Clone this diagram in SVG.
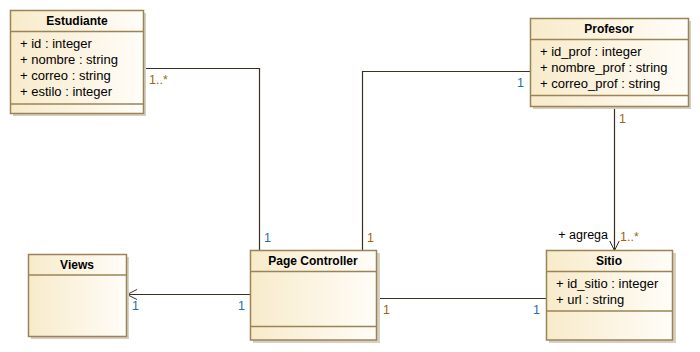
<svg xmlns="http://www.w3.org/2000/svg" width="700" height="352" viewBox="0 0 700 352">
  <defs>
    <linearGradient id="classFill" x1="0" y1="0" x2="1" y2="0">
      <stop offset="0" stop-color="#F8EBCB"/>
      <stop offset="1" stop-color="#FFFDF8"/>
    </linearGradient>
    <marker id="openArrow" markerWidth="12" markerHeight="12" refX="10" refY="6" orient="auto" markerUnits="userSpaceOnUse">
      <path d="M0,1 L10,6 L0,11" fill="none" stroke="#3A3020" stroke-width="1"/>
    </marker>
  </defs>
  <style>
    .shadow { fill: #D6D0C4; }
    .box { fill: url(#classFill); stroke: #9A8456; stroke-width: 1.5; }
    .sep { stroke: #9A8456; stroke-width: 1.5; }
    .title { font-family: "Liberation Sans", Arial, sans-serif; font-size: 12px; font-weight: bold; fill: #000; text-anchor: middle; }
    .attr { font-family: "Liberation Sans", Arial, sans-serif; font-size: 13px; fill: #000; }
    .edge { fill: none; stroke: #3A3020; stroke-width: 1.2; }
    .mult { font-family: "Liberation Sans", Arial, sans-serif; font-size: 12.5px; }
    .blue { fill: #1F6FB5; }
    .orange { fill: #A4640C; }
    .role { font-family: "Liberation Sans", Arial, sans-serif; font-size: 12.5px; fill: #000; text-anchor: end; }
  </style>

  <g id="connectors">
    <polyline class="edge" points="143,68.5 259.5,68.5 259.5,250.5"/>
    <polyline class="edge" points="530.5,71.5 362.5,71.5 362.5,250.5"/>
    <line class="edge" x1="614.5" y1="106" x2="614.5" y2="250.5" marker-end="url(#openArrow)"/>
    <line class="edge" x1="250" y1="294.5" x2="127" y2="294.5" marker-end="url(#openArrow)"/>
    <line class="edge" x1="377" y1="298.5" x2="546" y2="298.5"/>

    <text class="mult orange" x="149" y="84">1..*</text>
    <text class="mult blue" x="264" y="242">1</text>
    <text class="mult orange" x="367" y="242">1</text>
    <text class="mult blue" x="517" y="87">1</text>
    <text class="mult orange" x="619" y="123">1</text>
    <text class="role" x="608" y="239">+ agrega</text>
    <text class="mult orange" x="620" y="241">1..*</text>
    <text class="mult blue" x="132" y="310">1</text>
    <text class="mult blue" x="238" y="310">1</text>
    <text class="mult orange" x="383" y="314">1</text>
    <text class="mult blue" x="533" y="314">1</text>
  </g>

  <g id="Estudiante">
    <rect class="shadow" x="13" y="13" width="133" height="103"/>
    <rect class="box" x="10.5" y="10.5" width="133" height="103"/>
    <line class="sep" x1="10.5" y1="31.5" x2="143.5" y2="31.5"/>
    <line class="sep" x1="10.5" y1="104" x2="143.5" y2="104"/>
    <text class="title" x="77" y="25">Estudiante</text>
    <text class="attr" x="20" y="47.5">+ id : integer</text>
    <text class="attr" x="20" y="63.5">+ nombre : string</text>
    <text class="attr" x="20" y="79.5">+ correo : string</text>
    <text class="attr" x="20" y="95.5">+ estilo : integer</text>
  </g>

  <g id="Profesor">
    <rect class="shadow" x="533" y="21" width="158" height="88"/>
    <rect class="box" x="530.5" y="18.5" width="158" height="88"/>
    <line class="sep" x1="530.5" y1="39.5" x2="688.5" y2="39.5"/>
    <line class="sep" x1="530.5" y1="95.5" x2="688.5" y2="95.5"/>
    <text class="title" x="609" y="33">Profesor</text>
    <text class="attr" x="540" y="56">+ id_prof : integer</text>
    <text class="attr" x="540" y="72">+ nombre_prof : string</text>
    <text class="attr" x="540" y="88">+ correo_prof : string</text>
  </g>

  <g id="Views">
    <rect class="shadow" x="31" y="257" width="98" height="82"/>
    <rect class="box" x="28.5" y="254.5" width="98" height="82"/>
    <line class="sep" x1="28.5" y1="275" x2="126.5" y2="275"/>
    <text class="title" x="77" y="269">Views</text>
  </g>

  <g id="PageController">
    <rect class="shadow" x="253" y="253" width="127" height="90"/>
    <rect class="box" x="250.5" y="250.5" width="126" height="89.5"/>
    <line class="sep" x1="250.5" y1="271.5" x2="376.5" y2="271.5"/>
    <line class="sep" x1="250.5" y1="326.5" x2="376.5" y2="326.5"/>
    <text class="title" x="313" y="265">Page Controller</text>
  </g>

  <g id="Sitio">
    <rect class="shadow" x="549" y="253" width="127" height="90"/>
    <rect class="box" x="546.5" y="250.5" width="126" height="89.5"/>
    <line class="sep" x1="546.5" y1="271.5" x2="672.5" y2="271.5"/>
    <line class="sep" x1="546.5" y1="311" x2="672.5" y2="311"/>
    <text class="title" x="609" y="265">Sitio</text>
    <text class="attr" x="556" y="287.5">+ id_sitio : integer</text>
    <text class="attr" x="556" y="304">+ url : string</text>
  </g>
</svg>
